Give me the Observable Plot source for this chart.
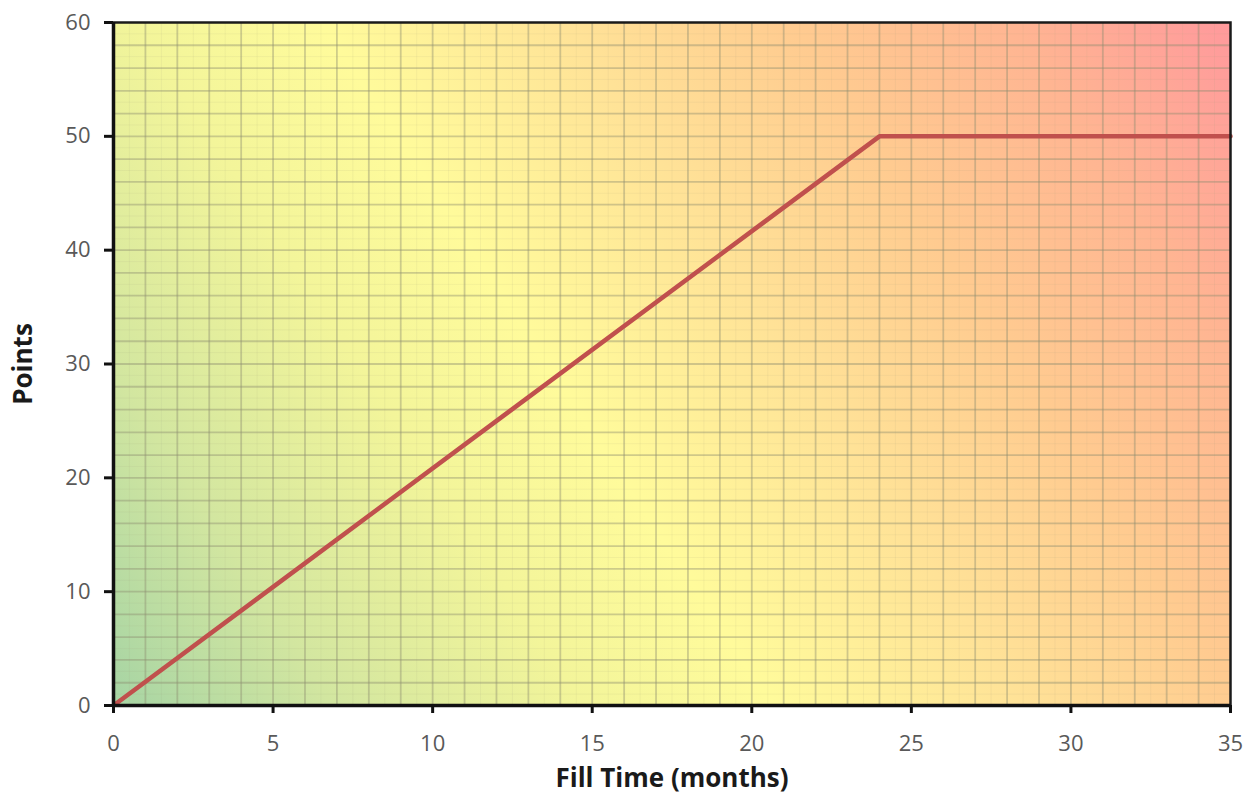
<!DOCTYPE html>
<html>
<head>
<meta charset="utf-8">
<script src="https://cdn.jsdelivr.net/npm/d3@7"></script>
<script src="https://cdn.jsdelivr.net/npm/@observablehq/plot@0.6"></script>
<style>
  html, body { margin: 0; padding: 0; background: #ffffff; }
  #chart { width: 1256px; height: 801px; }
  svg { font-family: "Open Sans", Lato, sans-serif; }
</style>
</head>
<body>
<div id="chart"></div>
<script>
// Data
const months = [0, 24, 35];
const points = [0, 50, 50];
const xTicks = [0, 5, 10, 15, 20, 25, 30, 35];
const yTicks = [0, 10, 20, 30, 40, 50, 60];
const xGridMajor = [1,2,3,4,5,6,7,8,9,10,11,12,13,14,15,16,17,18,19,20,21,22,23,24,25,26,27,28,29,30,31,32,33,34];
const yGridMajor = [2,4,6,8,10,12,14,16,18,20,22,24,26,28,30,32,34,36,38,40,42,44,46,48,50,52,54,56,58];
const xGridMinor = [0.5,1.5,2.5,3.5,4.5,5.5,6.5,7.5,8.5,9.5,10.5,11.5,12.5,13.5,14.5,15.5,16.5,17.5,18.5,19.5,20.5,21.5,22.5,23.5,24.5,25.5,26.5,27.5,28.5,29.5,30.5,31.5,32.5,33.5,34.5];
const yGridMinor = [1,3,5,7,9,11,13,15,17,19,21,23,25,27,29,31,33,35,37,39,41,43,45,47,49,51,53,55,57,59];

const data = months.map((m, i) => ({month: m, points: points[i]}));

const W = 1256, H = 801, ML = 113, MR = 26, MT = 22, MB = 96;

const chart = Plot.plot({
  width: W,
  height: H,
  marginLeft: ML,
  marginRight: MR,
  marginTop: MT,
  marginBottom: MB,
  style: {fontFamily: "'Open Sans', Lato, sans-serif", background: "#ffffff"},
  x: {domain: [0, 35], label: null},
  y: {domain: [0, 60], label: null},
  marks: [
    Plot.frame({fill: "url(#bgGrad)", stroke: "none"}),
    Plot.ruleX(xGridMinor, {stroke: "#9a9a80", strokeOpacity: 0.1, strokeWidth: 1}),
    Plot.ruleY(yGridMinor, {stroke: "#9a9a80", strokeOpacity: 0.1, strokeWidth: 1}),
    Plot.ruleX(xGridMajor, {stroke: "#8c8c70", strokeOpacity: 0.42, strokeWidth: 1.8}),
    Plot.ruleY(yGridMajor, {stroke: "#8c8c70", strokeOpacity: 0.42, strokeWidth: 1.8}),
    Plot.line(data, {x: "month", y: "points", stroke: "#c0504d", strokeWidth: 4.5}),
    Plot.frame({stroke: "#1a1a1a", strokeWidth: 2.5}),
    Plot.ruleX([0], {stroke: "#111", strokeWidth: 3.5}),
    Plot.ruleY([0], {stroke: "#111", strokeWidth: 3.5}),
    Plot.axisX(xTicks, {tickSize: 8, tickPadding: 22, stroke: "#111", strokeWidth: 3, fill: "#595959", fontSize: 22, label: null}),
    Plot.axisY(yTicks, {tickSize: 9, tickPadding: 14, stroke: "#111", strokeWidth: 3, fill: "#595959", fontSize: 22, label: null}),
    Plot.text(["Fill Time (months)"], {frameAnchor: "bottom", dy: 81, fontSize: 26, fontWeight: "bold", fill: "#1a1a1a"}),
    Plot.text(["Points"], {frameAnchor: "left", textAnchor: "middle", dx: -90, rotate: -90, fontSize: 26, fontWeight: "bold", fill: "#1a1a1a"})
  ]
});

// gradient definition (diagonal, bottom-left green -> yellow -> orange -> top-right pink)
const x0 = ML, x1 = W - MR, y0 = MT, y1 = H - MB;
const cx = (x0 + x1) / 2, cy = (y0 + y1) / 2;
const ux = 0.835, uy = -0.55;
const half = Math.abs((x1 - cx) * ux) + Math.abs((y0 - cy) * uy);
const svgNS = "http://www.w3.org/2000/svg";
const defs = document.createElementNS(svgNS, "defs");
defs.innerHTML = `
  <linearGradient id="bgGrad" gradientUnits="userSpaceOnUse"
     x1="${cx - half * ux}" y1="${cy - half * uy}" x2="${cx + half * ux}" y2="${cy + half * uy}">
    <stop offset="0%" stop-color="#a6d4a4"/>
    <stop offset="14%" stop-color="#d2e6a0"/>
    <stop offset="30%" stop-color="#f3f59a"/>
    <stop offset="42%" stop-color="#fffb9b"/>
    <stop offset="58%" stop-color="#ffe297"/>
    <stop offset="72%" stop-color="#ffcb90"/>
    <stop offset="86%" stop-color="#ffb592"/>
    <stop offset="100%" stop-color="#ff999c"/>
  </linearGradient>`;
chart.insertBefore(defs, chart.firstChild);
document.getElementById("chart").appendChild(chart);
</script>
</body>
</html>
